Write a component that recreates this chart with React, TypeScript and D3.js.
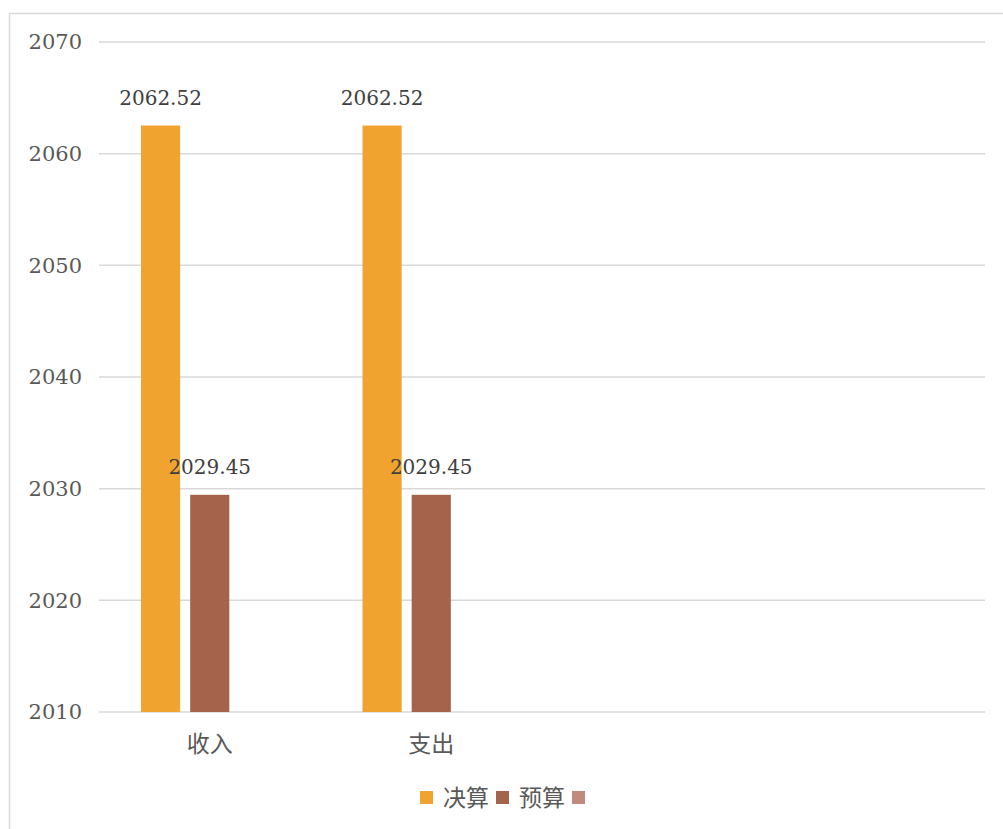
import * as d3 from "d3";
import { useEffect, useRef } from "react";

const categories = ["收入", "支出", "", ""];
const seriesNames = ["决算", "预算", ""];
const finalValues = [2062.52, 2062.52, null, null];
const budgetValues = [2029.45, 2029.45, null, null];
const thirdValues = [null, null, null, null];
const yTicks = [2010, 2020, 2030, 2040, 2050, 2060, 2070];
const colors = ["#F0A32F", "#A5634B", "#C08A7C"];

const W = 1003;
const H = 829;

function App() {
	const ref = useRef<SVGSVGElement>(null);

	useEffect(() => {
		const svg = d3.select(ref.current);
		svg.selectAll("*").remove();
		const textColor = "#595959";
		const numFont = "'DejaVu Serif', serif";
		const cjkFont = "'Noto Sans CJK SC', sans-serif";

		// outer frame
		svg.append("rect")
			.attr("x", 9.5)
			.attr("y", 13.5)
			.attr("width", W + 20)
			.attr("height", H + 20)
			.attr("fill", "white")
			.attr("stroke", "#d9d9d9")
			.attr("stroke-width", 1.5);

		const left = 99;
		const right = 985;
		const top = 42;
		const bottom = 712;

		const x = d3.scaleBand<number>()
			.domain(d3.range(categories.length))
			.range([left, right]);
		const outer = 42;
		const x1 = d3.scaleBand<number>()
			.domain(d3.range(seriesNames.length))
			.range([outer, x.bandwidth() - outer])
			.paddingInner(0.204)
			.paddingOuter(0);
		const y = d3.scaleLinear().domain([2010, 2070]).range([bottom, top]);

		// gridlines
		svg.append("g")
			.selectAll("line")
			.data(yTicks)
			.enter()
			.append("line")
			.attr("x1", left)
			.attr("x2", right)
			.attr("y1", (d) => y(d))
			.attr("y2", (d) => y(d))
			.attr("stroke", "#d9d9d9")
			.attr("stroke-width", 1.5);

		// y tick labels
		svg.append("g")
			.selectAll("text")
			.data(yTicks)
			.enter()
			.append("text")
			.attr("x", 82)
			.attr("y", (d) => y(d))
			.attr("dy", "0.35em")
			.attr("text-anchor", "end")
			.style("font-family", numFont)
			.style("font-size", "21px")
			.attr("fill", textColor)
			.text((d) => d);

		const series = [finalValues, budgetValues, thirdValues];
		series.forEach((vals, si) => {
			const g = svg.append("g");
			vals.forEach((v, ci) => {
				if (v === null) return;
				const bx = (x(ci) as number) + (x1(si) as number);
				g.append("rect")
					.attr("x", bx)
					.attr("y", y(v))
					.attr("width", x1.bandwidth())
					.attr("height", bottom - y(v))
					.attr("fill", colors[si]);
				g.append("text")
					.attr("x", bx + x1.bandwidth() / 2)
					.attr("y", y(v) - 21)
					.attr("text-anchor", "middle")
					.style("font-family", numFont)
					.style("font-size", "20px")
					.attr("fill", "#404040")
					.text(v.toFixed(2));
			});
		});

		// category labels
		svg.append("g")
			.selectAll("text")
			.data(categories)
			.enter()
			.append("text")
			.attr("x", (_, i) => (x(i) as number) + x.bandwidth() / 2)
			.attr("y", 752)
			.attr("text-anchor", "middle")
			.style("font-family", cjkFont)
			.style("font-size", "23px")
			.attr("fill", textColor)
			.text((d) => d);

		// legend
		const legend = svg.append("g");
		let lx = 420;
		seriesNames.forEach((name, i) => {
			legend.append("rect")
				.attr("x", lx)
				.attr("y", 791)
				.attr("width", 13)
				.attr("height", 13)
				.attr("fill", colors[i]);
			lx += 23;
			if (name) {
				const t = legend.append("text")
					.attr("x", lx)
					.attr("y", 806)
					.style("font-family", cjkFont)
					.style("font-size", "23px")
					.attr("fill", textColor)
					.text(name);
				const len = (t.node() as SVGTextElement).getComputedTextLength();
				lx += len + 7;
			}
		});
	}, []);

	return (
		<svg
			ref={ref}
			width={W}
			height={H}
			style={{ position: "absolute", left: 0, top: 0, background: "white" }}
		/>
	);
}

export default App;
